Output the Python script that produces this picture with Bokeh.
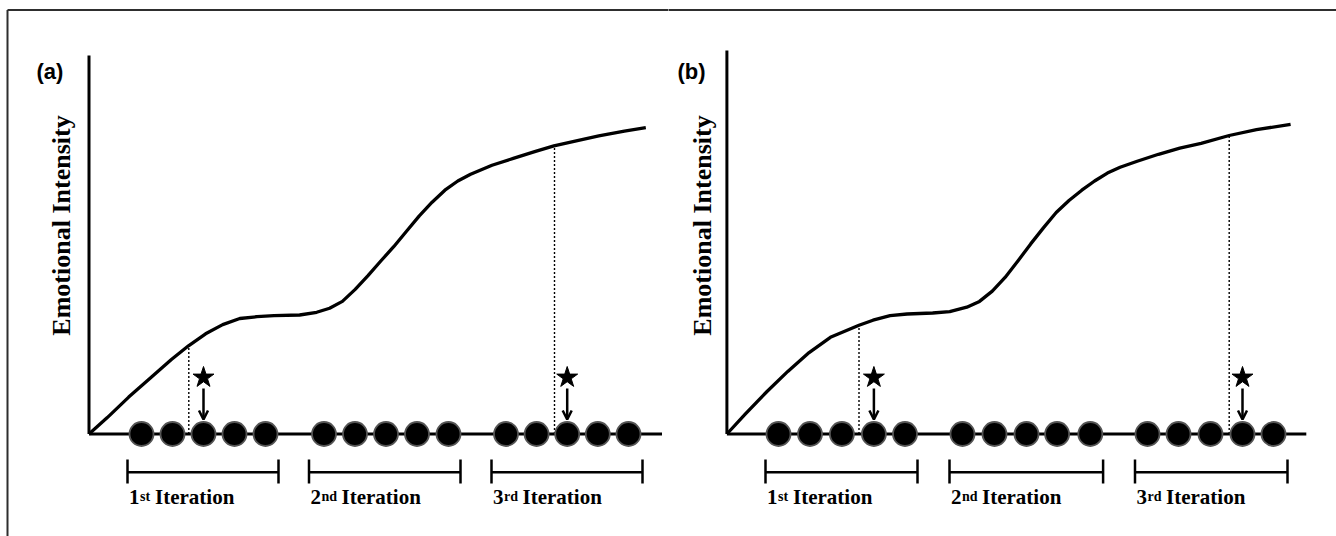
import numpy as np
from bokeh.plotting import figure
from bokeh.layouts import row
from bokeh.models import ColumnDataSource, Arrow, OpenHead, Range1d
from bokeh.core.properties import value
from bokeh.embed import file_html
from bokeh.resources import INLINE

# ---------------- data (time units / intensity units) ----------------
curve_a_x = [0, 1.83, 3.97, 6.11, 8.24, 9.95, 11.66, 13.37, 15.08, 16.79, 18.5, 21.06, 22.77,
             24.06, 25.34, 26.62, 27.9, 29.18, 30.47, 31.75, 33.03, 34.31, 35.59, 36.88, 38.16,
             40.3, 42.43, 44.57, 46.49, 48.84, 50.98, 53.54, 55.68]
curve_a_y = [0, 1.64, 3.69, 5.57, 7.45, 8.82, 10.02, 10.94, 11.55, 11.73, 11.83, 11.9, 12.17,
             12.58, 13.26, 14.46, 15.83, 17.3, 18.73, 20.27, 21.81, 23.18, 24.38, 25.3, 25.98,
             26.87, 27.56, 28.24, 28.82, 29.33, 29.81, 30.29, 30.63]

curve_b_x = [0, 1.83, 3.96, 6.09, 8.22, 10.35, 13.21, 14.61, 16.32, 18.02, 20.58, 22.28, 23.99,
             25.26, 26.54, 27.82, 29.1, 30.38, 31.65, 32.93, 34.21, 35.49, 36.77, 38.05, 39.32,
             41.03, 43.16, 45.29, 47.42, 50.23, 52.96, 56.37]
curve_b_y = [0, 1.98, 4.2, 6.26, 8.14, 9.67, 10.87, 11.38, 11.83, 12.0, 12.1, 12.24, 12.68,
             13.26, 14.29, 15.66, 17.3, 19.01, 20.61, 22.15, 23.35, 24.38, 25.3, 26.09, 26.67,
             27.28, 27.97, 28.58, 29.06, 29.85, 30.43, 30.97]

# sessions (circles) on the time axis, 3 iterations x 5
sessions_a = [5.25, 8.35, 11.45, 14.55, 17.65,
              23.5, 26.6, 29.7, 32.8, 35.95,
              41.7, 44.76, 47.82, 50.88, 53.95]
sessions_b = [5.16, 8.31, 11.5, 14.7, 17.81,
              23.56, 26.76, 29.96, 33.02, 36.34,
              42.06, 45.16, 48.36, 51.56, 54.66]

# index of the starred session
star_idx_a = [2, 12]
star_idx_b = [3, 13]

# dotted drop lines (time, intensity on the curve)
drop_a_x = [9.98, 46.55]
drop_a_y = [8.8, 28.85]
drop_b_x = [13.21, 50.23]
drop_b_y = [10.87, 29.85]

# iteration brackets (time)
iter_left_a = [3.85, 22.0, 40.25]
iter_right_a = [18.95, 37.15, 55.35]
iter_left_b = [3.86, 22.26, 40.81]
iter_right_b = [19.06, 37.62, 56.06]

iter_nums = ["1", "2", "3"]
iter_sups = ["st", "nd", "rd"]
iter_word = "Iteration"
y_title = "Emotional Intensity"
panel_labels = ["(a)", "(b)"]

# axis extents (time end, intensity end)
axis_a = (57.3, 37.85)
axis_b = (57.94, 38.35)

# ---------------- layout / style constants ----------------
W, H = 668, 536
PX = 10.0                      # pixels per unit
Y_START = -10.25
Y_END = Y_START + H / PX
FRAME_TOP = 42.4               # outer frame top edge (intensity units)
FRAME_LEFT_A = -8.15           # outer frame left edge in panel (a)
STAR_Y = 5.65
ARROW_TOP, ARROW_TIP = 4.55, 1.45
BR_Y, BR_TOP, BR_BOT = -3.82, -2.55, -4.95
LABEL_Y = -6.25
SERIF = value("Liberation Serif")
SANS = value("Liberation Sans")


def make_panel(label, x_start, cx, cy, sessions, star_idx, drop_x, drop_y,
               br_left, br_right, axis_ext, title_x, label_x, left_border):
    x_end = x_start + W / PX
    p = figure(width=W, height=H, x_range=Range1d(x_start, x_end),
               y_range=Range1d(Y_START, Y_END), output_backend="svg",
               toolbar_location=None, x_axis_type=None, y_axis_type=None,
               min_border=0, outline_line_color=None, background_fill_color="white",
               border_fill_color="white")

    # outer frame (open at right and bottom)
    fx0 = FRAME_LEFT_A if left_border else x_start - 1
    p.segment(x0=[fx0], y0=[FRAME_TOP], x1=[x_end + 1], y1=[FRAME_TOP],
              line_color="#2e2e2e", line_width=2)
    if left_border:
        p.segment(x0=[FRAME_LEFT_A], y0=[FRAME_TOP], x1=[FRAME_LEFT_A], y1=[Y_START - 1],
                  line_color="#2e2e2e", line_width=2)

    # axes
    p.segment(x0=[0, 0], y0=[0, 0], x1=[axis_ext[0], 0], y1=[0, axis_ext[1]],
              line_color="black", line_width=3)

    # dotted drop lines
    p.segment(x0=drop_x, y0=[0] * len(drop_x), x1=drop_x, y1=drop_y,
              line_color="black", line_width=1.4, line_dash="2 2")

    # curve
    p.line(cx, cy, line_color="black", line_width=3.3, line_join="round")

    # sessions
    p.scatter(x=sessions, y=[0] * len(sessions), size=24, fill_color="black",
              line_color="#555555", line_width=1.8)

    # stars + arrows
    sx = [sessions[i] for i in star_idx]
    p.scatter(x=sx, y=[STAR_Y] * len(sx), marker="star", size=22,
              fill_color="black", line_color="black")
    src = ColumnDataSource(dict(x=sx, y0=[ARROW_TOP] * len(sx), y1=[ARROW_TIP] * len(sx)))
    p.add_layout(Arrow(end=OpenHead(size=9, line_width=2.5, line_color="black"),
                       x_start="x", y_start="y0", x_end="x", y_end="y1",
                       source=src, line_width=2.5, line_color="black"))

    # brackets
    n = len(br_left)
    p.segment(x0=br_left, y0=[BR_Y] * n, x1=br_right, y1=[BR_Y] * n,
              line_color="black", line_width=2.5)
    p.segment(x0=br_left + br_right, y0=[BR_TOP] * (2 * n), x1=br_left + br_right,
              y1=[BR_BOT] * (2 * n), line_color="black", line_width=2.5)

    # iteration labels
    p.text(x=br_left, y=[LABEL_Y] * n, text=iter_nums, x_offset=1.5,
           text_font=SERIF, text_font_style="bold", text_font_size="21px",
           text_baseline="alphabetic", text_align="left", text_color="black")
    p.text(x=br_left, y=[LABEL_Y] * n, text=iter_sups, x_offset=12.5,
           text_font=SERIF, text_font_style="bold", text_font_size="14px",
           text_baseline="alphabetic", text_align="left", text_color="black")
    p.text(x=br_left, y=[LABEL_Y] * n, text=[iter_word] * n, x_offset=[27.5, 32.5, 31],
           text_font=SERIF, text_font_style="bold", text_font_size="21px",
           text_baseline="alphabetic", text_align="left", text_color="black")

    # y title
    p.text(x=[title_x], y=[20.85], text=[y_title], angle=np.pi / 2,
           text_font=SERIF, text_font_style="bold", text_font_size="26px",
           text_align="center", text_baseline="alphabetic", text_color="black")

    # panel label
    p.text(x=[label_x], y=[36.3], text=[label], text_font=SANS, text_font_style="bold",
           text_font_size="22px", text_align="left", text_baseline="alphabetic",
           text_color="black")
    return p


pa = make_panel(panel_labels[0], -8.85, curve_a_x, curve_a_y, sessions_a, star_idx_a,
                drop_a_x, drop_a_y, iter_left_a, iter_right_a, axis_a, -2.75, -5.25, True)
pb = make_panel(panel_labels[1], -5.84, curve_b_x, curve_b_y, sessions_b, star_idx_b,
                drop_b_x, drop_b_y, iter_left_b, iter_right_b, axis_b, -2.41, -4.94, False)

layout = row(pa, pb)
open("out.html", "w").write(file_html(layout, INLINE))
